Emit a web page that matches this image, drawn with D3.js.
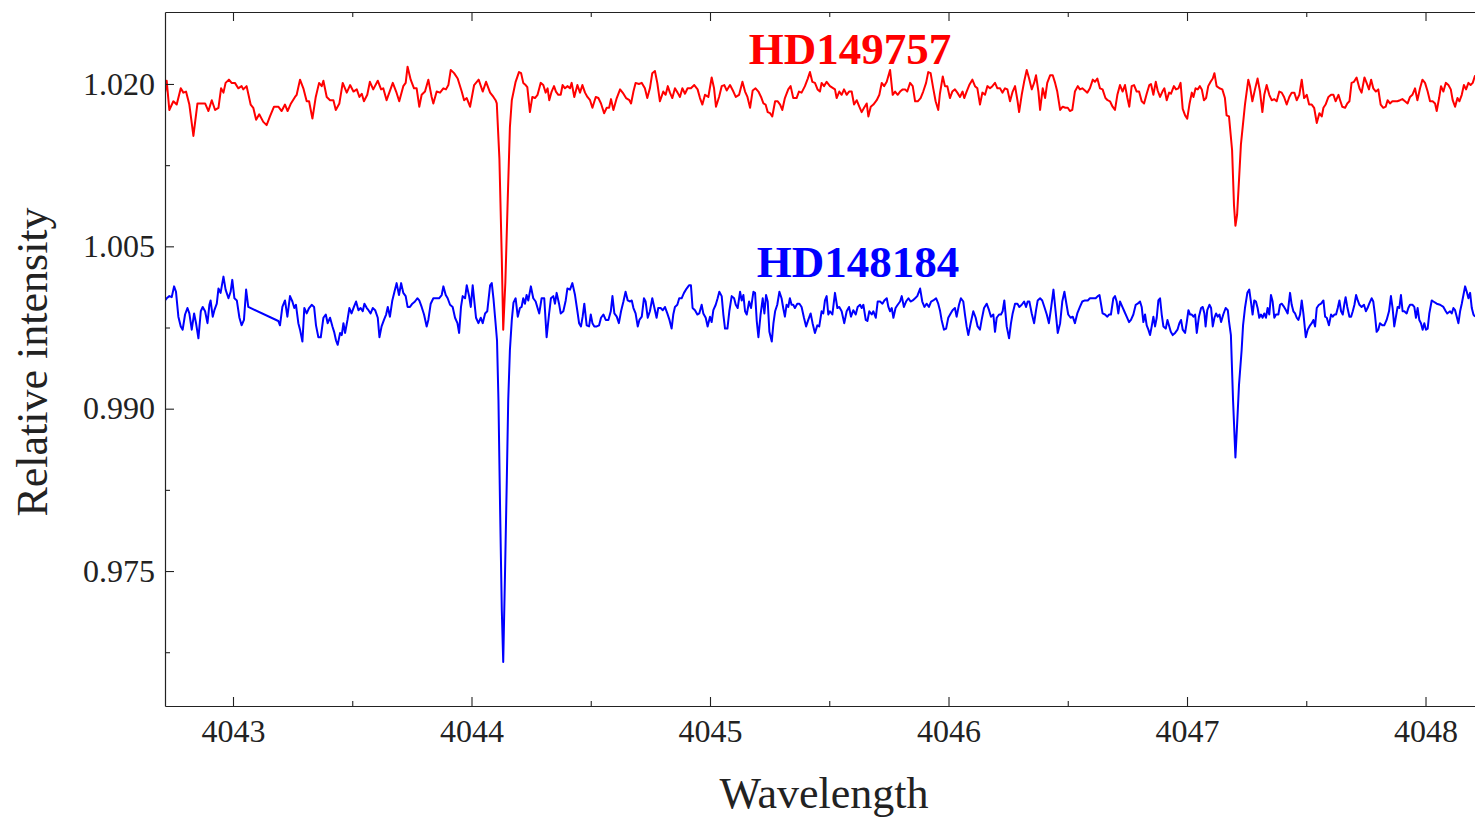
<!DOCTYPE html>
<html><head><meta charset="utf-8">
<script src="https://cdn.jsdelivr.net/npm/d3@7"></script>
<style>html,body{margin:0;padding:0;background:#fff;}svg{display:block;}</style>
</head><body>
<svg id="chart" width="1475" height="819"></svg>
<script>
// ---- data (wavelength, relative intensity) ----
const seriesNames = ["HD149757", "HD148184"];
const seriesColors = ["#ff0000", "#0000ff"];
const xTickValues = [4043, 4044, 4045, 4046, 4047, 4048];
const xMinorTickValues = [4043.5, 4044.5, 4045.5, 4046.5, 4047.5];
const yTickValues = [0.975, 0.990, 1.005, 1.020];
const yMinorTickValues = [0.9675, 0.9825, 0.9975, 1.0125];

const hd149757 = [
[4042.715,1.0192],[4042.722,1.0203],[4042.733,1.0176],[4042.750,1.0184],[4042.764,1.0181],[4042.781,1.0196],[4042.792,1.0192],[4042.803,1.0193],[4042.817,1.0181],[4042.834,1.0152],[4042.851,1.0182],[4042.869,1.0182],[4042.883,1.0182],[4042.897,1.0175],[4042.911,1.0185],[4042.925,1.0176],[4042.939,1.0178],[4042.950,1.0196],[4042.960,1.0192],[4042.969,1.0201],[4042.983,1.0204],[4042.994,1.0201],[4043.008,1.0201],[4043.022,1.0196],[4043.036,1.0198],[4043.043,1.0195],[4043.057,1.0198],[4043.074,1.0181],[4043.085,1.0178],[4043.097,1.0167],[4043.110,1.0172],[4043.127,1.0165],[4043.141,1.0162],[4043.155,1.0170],[4043.172,1.0179],[4043.190,1.0179],[4043.204,1.0175],[4043.218,1.0181],[4043.229,1.0175],[4043.243,1.0182],[4043.260,1.0188],[4043.267,1.0190],[4043.281,1.0204],[4043.295,1.0196],[4043.309,1.0184],[4043.319,1.0184],[4043.333,1.0168],[4043.347,1.0188],[4043.361,1.0201],[4043.372,1.0198],[4043.379,1.0203],[4043.393,1.0188],[4043.407,1.0185],[4043.421,1.0185],[4043.431,1.0176],[4043.446,1.0182],[4043.460,1.0201],[4043.477,1.0192],[4043.491,1.0199],[4043.505,1.0193],[4043.519,1.0195],[4043.530,1.0188],[4043.540,1.0191],[4043.549,1.0184],[4043.563,1.0190],[4043.574,1.0202],[4043.588,1.0195],[4043.607,1.0203],[4043.621,1.0195],[4043.630,1.0196],[4043.644,1.0185],[4043.670,1.0201],[4043.684,1.0193],[4043.697,1.0184],[4043.714,1.0198],[4043.724,1.0201],[4043.732,1.0216],[4043.745,1.0204],[4043.759,1.0196],[4043.770,1.0196],[4043.781,1.0179],[4043.791,1.0190],[4043.805,1.0193],[4043.819,1.0204],[4043.833,1.0188],[4043.840,1.0182],[4043.854,1.0193],[4043.868,1.0192],[4043.882,1.0196],[4043.893,1.0195],[4043.903,1.0199],[4043.913,1.0213],[4043.927,1.0210],[4043.942,1.0205],[4043.959,1.0193],[4043.969,1.0185],[4043.980,1.0187],[4043.994,1.0179],[4044.011,1.0199],[4044.030,1.0204],[4044.047,1.0193],[4044.061,1.0202],[4044.078,1.0192],[4044.092,1.0188],[4044.101,1.0185],
[4044.106,1.0182],[4044.117,1.0131],[4044.127,1.0039],[4044.133,0.9973],[4044.142,1.0017],[4044.152,1.0094],[4044.161,1.0160],[4044.169,1.0185],
[4044.185,1.0202],[4044.199,1.0211],[4044.208,1.0210],[4044.217,1.0201],[4044.227,1.0199],[4044.234,1.0197],[4044.245,1.0174],[4044.255,1.0188],[4044.266,1.0187],[4044.277,1.0190],[4044.290,1.0201],[4044.301,1.0199],[4044.311,1.0192],[4044.319,1.0196],[4044.326,1.0185],[4044.336,1.0193],[4044.346,1.0198],[4044.354,1.0193],[4044.364,1.0190],[4044.374,1.0190],[4044.382,1.0199],[4044.392,1.0196],[4044.402,1.0198],[4044.413,1.0196],[4044.420,1.0201],[4044.431,1.0188],[4044.444,1.0199],[4044.455,1.0192],[4044.465,1.0199],[4044.476,1.0192],[4044.486,1.0188],[4044.497,1.0185],[4044.507,1.0178],[4044.521,1.0188],[4044.532,1.0187],[4044.543,1.0182],[4044.556,1.0173],[4044.567,1.0178],[4044.577,1.0178],[4044.585,1.0186],[4044.595,1.0176],[4044.609,1.0187],[4044.623,1.0195],[4044.637,1.0191],[4044.648,1.0187],[4044.662,1.0185],[4044.669,1.0182],[4044.679,1.0193],[4044.688,1.0201],[4044.702,1.0200],[4044.714,1.0201],[4044.727,1.0196],[4044.737,1.0187],[4044.748,1.0196],[4044.758,1.0210],[4044.769,1.0212],[4044.779,1.0201],[4044.790,1.0184],[4044.804,1.0193],[4044.814,1.0190],[4044.823,1.0198],[4044.832,1.0192],[4044.842,1.0187],[4044.853,1.0196],[4044.864,1.0192],[4044.874,1.0188],[4044.884,1.0196],[4044.895,1.0191],[4044.906,1.0196],[4044.920,1.0196],[4044.934,1.0199],[4044.948,1.0195],[4044.958,1.0187],[4044.968,1.0181],[4044.979,1.0190],[4044.993,1.0188],[4045.007,1.0206],[4045.017,1.0196],[4045.025,1.0179],[4045.038,1.0188],[4045.049,1.0198],[4045.060,1.0199],[4045.070,1.0194],[4045.084,1.0199],[4045.098,1.0193],[4045.108,1.0188],[4045.122,1.0190],[4045.136,1.0202],[4045.147,1.0193],[4045.157,1.0188],[4045.168,1.0178],[4045.179,1.0194],[4045.191,1.0196],[4045.203,1.0193],[4045.214,1.0188],[4045.224,1.0182],[4045.233,1.0181],[4045.242,1.0174],[4045.252,1.0173],[4045.261,1.0170],[4045.273,1.0184],[4045.284,1.0184],[4045.294,1.0181],[4045.303,1.0176],[4045.314,1.0187],[4045.328,1.0195],[4045.338,1.0198],[4045.349,1.0187],[4045.363,1.0187],[4045.373,1.0193],[4045.384,1.0192],[4045.398,1.0198],[4045.410,1.0205],[4045.419,1.0211],[4045.429,1.0202],[4045.440,1.0201],[4045.451,1.0195],[4045.461,1.0193],[4045.468,1.0201],[4045.478,1.0198],[4045.489,1.0202],[4045.503,1.0198],
[4045.524,1.0195],[4045.531,1.0187],[4045.542,1.0193],[4045.552,1.0190],[4045.562,1.0195],[4045.573,1.0190],[4045.583,1.0193],[4045.594,1.0193],[4045.604,1.0181],[4045.615,1.0185],[4045.626,1.0179],[4045.636,1.0174],[4045.646,1.0178],[4045.657,1.0182],[4045.664,1.0170],[4045.674,1.0179],[4045.685,1.0181],[4045.699,1.0185],[4045.710,1.0190],[4045.720,1.0201],[4045.730,1.0198],[4045.741,1.0202],[4045.755,1.0213],[4045.766,1.0190],[4045.776,1.0193],[4045.787,1.0190],[4045.797,1.0193],[4045.808,1.0195],[4045.818,1.0195],[4045.827,1.0193],[4045.839,1.0201],[4045.850,1.0198],[4045.860,1.0184],[4045.871,1.0184],[4045.883,1.0187],[4045.894,1.0193],[4045.906,1.0201],[4045.915,1.0211],[4045.925,1.0210],[4045.936,1.0196],[4045.946,1.0184],[4045.957,1.0176],[4045.964,1.0191],[4045.976,1.0207],[4045.985,1.0198],[4045.995,1.0198],[4046.006,1.0187],[4046.016,1.0193],[4046.027,1.0195],[4046.037,1.0192],[4046.048,1.0188],[4046.059,1.0193],[4046.066,1.0187],[4046.076,1.0193],[4046.087,1.0199],[4046.100,1.0204],[4046.111,1.0198],[4046.121,1.0196],[4046.132,1.0181],[4046.142,1.0192],[4046.153,1.0190],[4046.163,1.0198],[4046.174,1.0196],[4046.184,1.0198],[4046.195,1.0201],[4046.205,1.0196],[4046.216,1.0196],[4046.226,1.0192],[4046.237,1.0196],[4046.247,1.0195],[4046.258,1.0184],[4046.269,1.0193],[4046.279,1.0198],[4046.289,1.0185],[4046.296,1.0174],[4046.307,1.0190],[4046.317,1.0202],[4046.328,1.0213],[4046.338,1.0205],[4046.349,1.0195],[4046.359,1.0201],[4046.367,1.0208],[4046.377,1.0193],[4046.384,1.0176],[4046.395,1.0196],[4046.405,1.0187],[4046.414,1.0201],[4046.426,1.0208],[4046.437,1.0208],[4046.447,1.0201],[4046.456,1.0193],[4046.468,1.0176],[4046.479,1.0179],[4046.490,1.0178],[4046.500,1.0178],[4046.509,1.0175],[4046.519,1.0176],[4046.530,1.0193],[4046.542,1.0198],[4046.551,1.0195],[4046.561,1.0196],[4046.572,1.0194],[4046.582,1.0192],[4046.593,1.0196],[4046.605,1.0204],[4046.614,1.0202],[4046.624,1.0205],[4046.635,1.0196],[4046.646,1.0195],[4046.658,1.0187],[4046.667,1.0185],[4046.677,1.0184],[4046.688,1.0179],[4046.698,1.0176],[4046.708,1.0190],[4046.719,1.0199],[4046.730,1.0193],[4046.740,1.0199],[4046.750,1.0187],[4046.758,1.0179],[4046.768,1.0198],[4046.778,1.0199],[4046.789,1.0193],[4046.799,1.0193],[4046.810,1.0184],[4046.820,1.0182],[4046.831,1.0191],[4046.842,1.0199],[4046.849,1.0200],[4046.859,1.0190],[4046.869,1.0202],[4046.877,1.0194],[4046.887,1.0188],[4046.897,1.0193],[4046.905,1.0196],[4046.915,1.0185],[4046.925,1.0192],
[4046.933,1.0191],[4046.945,1.0198],[4046.954,1.0195],[4046.964,1.0196],[4046.973,1.0201],[4046.982,1.0177],[4046.992,1.0171],[4047.001,1.0168],[4047.010,1.0181],[4047.020,1.0192],[4047.027,1.0188],[4047.036,1.0196],[4047.045,1.0195],[4047.054,1.0198],[4047.062,1.0195],[4047.071,1.0185],[4047.080,1.0187],[4047.089,1.0198],[4047.099,1.0202],[4047.108,1.0205],[4047.115,1.0210],[4047.124,1.0198],[4047.136,1.0196],[4047.148,1.0195],[4047.159,1.0187],[4047.166,1.0171],[4047.176,1.0170],
[4047.189,1.0139],[4047.197,1.0088],[4047.203,1.0069],[4047.210,1.0079],[4047.218,1.0111],[4047.226,1.0144],
[4047.243,1.0181],[4047.257,1.0204],[4047.264,1.0198],[4047.274,1.0184],[4047.285,1.0195],[4047.296,1.0205],[4047.306,1.0193],[4047.316,1.0174],[4047.324,1.0190],[4047.334,1.0199],[4047.345,1.0190],[4047.355,1.0185],[4047.366,1.0186],[4047.376,1.0184],[4047.387,1.0193],[4047.397,1.0192],[4047.407,1.0188],[4047.418,1.0181],[4047.429,1.0188],[4047.439,1.0192],[4047.450,1.0192],[4047.460,1.0185],[4047.471,1.0190],[4047.481,1.0204],[4047.491,1.0187],[4047.502,1.0190],[4047.512,1.0181],[4047.523,1.0181],[4047.533,1.0178],[4047.544,1.0164],[4047.555,1.0173],[4047.565,1.0170],[4047.572,1.0178],[4047.581,1.0181],[4047.593,1.0188],[4047.604,1.0190],[4047.614,1.0190],[4047.623,1.0184],[4047.635,1.0190],[4047.642,1.0185],[4047.651,1.0179],[4047.663,1.0178],[4047.672,1.0182],[4047.681,1.0184],[4047.690,1.0201],[4047.700,1.0202],[4047.711,1.0206],[4047.723,1.0196],[4047.732,1.0192],[4047.744,1.0206],[4047.753,1.0201],[4047.763,1.0195],[4047.772,1.0204],[4047.781,1.0196],[4047.792,1.0193],[4047.802,1.0195],[4047.812,1.0181],[4047.823,1.0178],[4047.833,1.0179],[4047.841,1.0185],[4047.851,1.0182],[4047.861,1.0184],[4047.872,1.0184],[4047.882,1.0184],[4047.893,1.0185],[4047.903,1.0186],[4047.914,1.0184],[4047.925,1.0182],[4047.935,1.0188],[4047.945,1.0190],[4047.956,1.0196],[4047.966,1.0185],[4047.977,1.0196],[4047.987,1.0204],[4047.998,1.0201],[4048.009,1.0193],[4048.019,1.0184],[4048.030,1.0184],[4048.040,1.0182],[4048.047,1.0175],[4048.057,1.0187],[4048.065,1.0198],[4048.075,1.0193],[4048.085,1.0201],[4048.096,1.0199],[4048.106,1.0195],[4048.114,1.0185],[4048.124,1.0179],[4048.134,1.0187],[4048.142,1.0184],[4048.152,1.0190],[4048.161,1.0199],[4048.170,1.0195],[4048.180,1.0201],[4048.189,1.0199],[4048.198,1.0201],[4048.208,1.0208]
];

const hd148184 = [
[4042.715,1.0000],[4042.722,1.0002],[4042.733,1.0004],[4042.743,1.0003],[4042.753,1.0013],[4042.761,1.0008],[4042.771,0.9985],[4042.781,0.9976],[4042.789,0.9973],[4042.799,0.9987],[4042.809,0.9993],[4042.817,0.9988],[4042.827,0.9973],[4042.837,0.9988],[4042.845,0.9979],[4042.855,0.9965],[4042.865,0.9990],[4042.873,0.9994],[4042.883,0.9990],[4042.893,0.9979],[4042.901,0.9996],[4042.906,1.0000],[4042.915,0.9985],[4042.922,0.9991],[4042.932,0.9997],[4042.939,1.0011],[4042.948,1.0007],[4042.960,1.0022],[4042.969,1.0010],[4042.981,1.0002],[4042.990,1.0008],[4042.997,1.0019],[4043.006,1.0002],[4043.016,1.0000],[4043.027,0.9984],[4043.036,0.9977],[4043.046,0.9982],[4043.055,1.0010],[4043.064,0.9994],[4043.190,0.9981],[4043.197,0.9977],[4043.207,0.9994],[4043.218,1.0000],[4043.228,0.9985],[4043.239,1.0004],[4043.249,0.9999],[4043.257,0.9993],[4043.264,0.9996],[4043.274,0.9979],[4043.281,0.9973],[4043.291,0.9962],[4043.299,0.9993],[4043.309,0.9988],[4043.319,0.9993],[4043.330,0.9996],[4043.340,0.9994],[4043.348,0.9977],[4043.358,0.9966],[4043.368,0.9966],[4043.379,0.9984],[4043.389,0.9987],[4043.397,0.9979],[4043.407,0.9984],[4043.417,0.9976],[4043.424,0.9971],[4043.432,0.9963],[4043.439,0.9959],[4043.449,0.9970],[4043.456,0.9968],[4043.463,0.9979],[4043.470,0.9970],[4043.480,0.9982],[4043.488,0.9993],[4043.497,0.9988],[4043.507,0.9994],[4043.516,0.9999],[4043.526,0.9991],[4043.535,0.9993],[4043.544,0.9990],[4043.551,0.9997],[4043.561,0.9993],[4043.568,0.9991],[4043.577,0.9988],[4043.586,0.9993],[4043.596,0.9991],[4043.607,0.9984],[4043.614,0.9966],[4043.623,0.9976],[4043.633,0.9982],[4043.642,0.9987],[4043.649,0.9994],[4043.658,0.9985],[4043.668,1.0000],[4043.677,1.0008],[4043.686,1.0016],[4043.696,1.0005],[4043.705,1.0016],[4043.714,1.0007],[4043.724,1.0004],[4043.732,0.9994],[4043.742,0.9994],[4043.752,0.9997],[4043.763,0.9999],[4043.773,1.0002],[4043.781,1.0000],[4043.791,0.9994],[4043.801,0.9987],[4043.812,0.9976],[4043.819,0.9982],[4043.829,0.9997],[4043.840,1.0002],[4043.851,1.0002],[4043.864,1.0002],[4043.875,1.0005],[4043.882,1.0013],[4043.892,1.0005],[4043.900,1.0002],[4043.910,0.9996],[4043.921,0.9994],[4043.931,0.9984],[4043.941,0.9979],[4043.948,0.9970],[4043.956,0.9994],[4043.963,1.0004],[4043.973,1.0002],[4043.980,1.0014],[4043.990,1.0004],[4043.997,0.9994],[4044.005,1.0014],[4044.012,0.9999],[4044.019,0.9984],[4044.029,0.9979],[4044.039,0.9984],[4044.047,0.9979],[4044.057,0.9988],[4044.066,0.9990],[4044.078,1.0014],[4044.085,1.0016],[4044.092,1.0002],[4044.099,0.9984],
[4044.107,0.9963],[4044.113,0.9908],[4044.120,0.9806],[4044.127,0.9714],[4044.133,0.9666],[4044.140,0.9742],[4044.148,0.9834],[4044.154,0.9908],[4044.161,0.9954],[4044.169,0.9982],[4044.176,0.9998],
[4044.185,1.0002],[4044.194,0.9985],[4044.203,0.9993],[4044.210,0.9994],[4044.217,1.0002],[4044.224,0.9997],[4044.231,1.0005],[4044.238,1.0000],[4044.249,1.0013],[4044.259,1.0002],[4044.269,0.9999],[4044.277,0.9993],[4044.284,0.9988],[4044.294,1.0002],[4044.305,1.0002],[4044.315,0.9966],[4044.325,0.9987],[4044.333,1.0002],[4044.343,1.0004],[4044.350,0.9997],[4044.357,1.0007],[4044.367,0.9997],[4044.374,0.9988],[4044.385,0.9990],[4044.395,1.0000],[4044.402,1.0011],[4044.413,1.0010],[4044.423,1.0016],[4044.434,1.0005],[4044.444,0.9990],[4044.451,0.9979],[4044.459,0.9976],[4044.466,0.9985],[4044.473,0.9997],[4044.483,0.9977],[4044.493,0.9976],[4044.500,0.9987],[4044.507,0.9979],[4044.515,0.9976],[4044.525,0.9976],[4044.535,0.9977],[4044.543,0.9984],[4044.553,0.9987],[4044.563,0.9982],[4044.574,0.9982],[4044.584,0.9990],[4044.591,1.0004],[4044.599,0.9988],[4044.609,0.9985],[4044.618,0.9979],[4044.627,0.9990],[4044.637,0.9999],[4044.646,1.0008],[4044.655,1.0000],[4044.665,0.9999],[4044.672,1.0000],[4044.679,0.9993],[4044.688,0.9988],[4044.697,0.9976],[4044.704,0.9982],[4044.714,0.9985],[4044.723,1.0002],[4044.730,0.9999],[4044.739,0.9984],[4044.748,0.9990],[4044.758,1.0002],[4044.767,0.9993],[4044.776,0.9984],[4044.783,0.9993],[4044.793,0.9993],[4044.802,0.9991],[4044.811,0.9994],[4044.821,0.9988],[4044.830,0.9982],[4044.839,0.9974],[4044.846,0.9987],[4044.853,0.9994],[4044.863,0.9996],[4044.871,1.0002],[4044.881,1.0002],[4044.891,1.0007],[4044.902,1.0011],[4044.912,1.0014],[4044.920,1.0014],[4044.927,0.9993],[4044.937,0.9991],[4044.947,0.9987],[4044.955,0.9988],[4044.965,0.9996],[4044.972,0.9988],[4044.982,0.9984],[4044.990,0.9976],[4045.000,0.9985],[4045.007,0.9980],[4045.014,0.9991],[4045.024,0.9996],[4045.032,1.0002],[4045.039,1.0008],[4045.049,1.0004],[4045.056,0.9987],[4045.063,0.9974],[4045.073,0.9974],[4045.081,0.9990],[4045.091,1.0004],[4045.101,1.0002],[4045.108,0.9996],[4045.116,0.9993],[4045.126,1.0008],[4045.133,1.0000],[4045.140,1.0005],[4045.147,0.9990],[4045.154,0.9987],[4045.164,0.9999],[4045.172,0.9993],[4045.182,1.0008],[4045.189,1.0007],[4045.196,0.9981],[4045.203,0.9966],[4045.212,0.9987],[4045.221,1.0002],[4045.228,0.9988],[4045.235,1.0005],[4045.242,0.9999],[4045.249,0.9971],[4045.259,0.9962],[4045.266,0.9979],[4045.273,0.9990],[4045.282,0.9996],[4045.291,1.0008],[4045.300,1.0002],[4045.307,0.9993],[4045.314,0.9985],[4045.321,0.9996],[4045.328,0.9994],[4045.335,1.0002],[4045.342,0.9996],[4045.349,0.9996],[4045.356,0.9993],[4045.366,0.9997],[4045.375,0.9997],[4045.384,0.9994],[4045.394,0.9984],[4045.403,0.9976],[4045.412,0.9982],[4045.422,0.9988],[4045.430,0.9979],[4045.440,0.9970],[4045.450,0.9977],[4045.458,0.9976],[4045.468,0.9990],[4045.475,0.9988],[4045.482,1.0000],[4045.489,1.0004],[4045.496,0.9987],[4045.503,0.9990],[4045.513,0.9987],
[4045.524,1.0007],[4045.534,0.9993],[4045.542,0.9994],[4045.552,0.9990],[4045.563,0.9979],[4045.573,0.9990],[4045.583,0.9994],[4045.591,0.9985],[4045.601,0.9991],[4045.611,0.9987],[4045.619,0.9994],[4045.629,0.9996],[4045.636,0.9993],[4045.643,0.9996],[4045.653,0.9982],[4045.660,0.9981],[4045.668,0.9990],[4045.678,0.9987],[4045.685,0.9990],[4045.695,0.9984],[4045.703,0.9999],[4045.713,0.9999],[4045.723,0.9997],[4045.731,1.0000],[4045.741,1.0002],[4045.748,0.9994],[4045.755,0.9990],[4045.762,0.9993],[4045.769,0.9984],[4045.778,0.9993],[4045.787,0.9996],[4045.797,0.9999],[4045.804,1.0004],[4045.813,0.9994],[4045.822,0.9999],[4045.832,1.0002],[4045.841,0.9999],[4045.850,1.0000],[4045.860,1.0002],[4045.869,1.0004],[4045.881,1.0011],[4045.890,0.9999],[4045.899,0.9994],[4045.908,0.9997],[4045.918,0.9994],[4045.927,0.9999],[4045.936,1.0000],[4045.948,1.0002],[4045.957,0.9997],[4045.964,0.9991],[4045.971,0.9982],[4045.981,0.9973],[4045.990,0.9974],[4045.999,0.9984],[4046.009,0.9988],[4046.017,0.9991],[4046.027,0.9993],[4046.034,0.9985],[4046.044,0.9996],[4046.052,1.0002],[4046.062,0.9999],[4046.069,0.9987],[4046.076,0.9976],[4046.083,0.9968],[4046.093,0.9979],[4046.104,0.9990],[4046.114,0.9984],[4046.122,0.9976],[4046.132,0.9973],[4046.139,0.9982],[4046.149,0.9993],[4046.160,0.9997],[4046.170,0.9991],[4046.178,0.9985],[4046.188,0.9987],[4046.195,0.9971],[4046.202,0.9984],[4046.212,0.9987],[4046.220,0.9987],[4046.227,0.9990],[4046.234,1.0000],[4046.244,0.9976],[4046.254,0.9965],[4046.262,0.9979],[4046.269,0.9988],[4046.279,0.9997],[4046.289,0.9997],[4046.297,0.9994],[4046.307,0.9996],[4046.317,0.9999],[4046.325,0.9994],[4046.332,0.9999],[4046.339,0.9999],[4046.349,0.9988],[4046.359,0.9979],[4046.367,0.9991],[4046.374,1.0000],[4046.384,1.0002],[4046.393,1.0000],[4046.402,0.9994],[4046.412,0.9987],[4046.421,0.9979],[4046.430,0.9993],[4046.440,1.0010],[4046.449,0.9990],[4046.458,0.9970],[4046.468,0.9979],[4046.477,0.9999],[4046.486,1.0008],[4046.495,0.9996],[4046.502,0.9987],[4046.512,0.9984],[4046.521,0.9985],[4046.530,0.9979],[4046.540,0.9988],[4046.551,0.9994],[4046.561,0.9999],[4046.572,1.0000],[4046.584,1.0000],[4046.593,1.0002],[4046.607,1.0002],[4046.617,1.0002],[4046.626,1.0004],[4046.633,1.0005],[4046.640,0.9996],[4046.646,0.9988],[4046.656,0.9987],[4046.666,0.9985],[4046.673,0.9987],[4046.681,0.9987],[4046.691,1.0002],[4046.698,1.0004],[4046.705,0.9999],[4046.712,0.9988],[4046.719,0.9999],[4046.729,0.9994],[4046.737,0.9990],[4046.747,0.9985],[4046.757,0.9980],[4046.765,0.9982],[4046.775,0.9987],[4046.785,0.9996],[4046.793,0.9997],[4046.803,0.9999],[4046.810,0.9994],[4046.817,0.9980],[4046.824,0.9987],[4046.831,0.9977],[4046.838,0.9973],[4046.845,0.9968],[4046.852,0.9976],[4046.859,0.9985],[4046.866,0.9976],[4046.873,0.9984],[4046.880,1.0000],[4046.887,1.0002],[4046.894,0.9987],[4046.901,0.9976],[4046.911,0.9974],[4046.918,0.9982],
[4046.932,0.9971],[4046.940,0.9968],[4046.950,0.9970],[4046.960,0.9973],[4046.968,0.9979],[4046.975,0.9982],[4046.982,0.9973],[4046.992,0.9970],[4046.999,0.9980],[4047.006,0.9991],[4047.013,0.9987],[4047.020,0.9987],[4047.027,0.9985],[4047.034,0.9987],[4047.041,0.9970],[4047.050,0.9985],[4047.059,0.9993],[4047.066,0.9994],[4047.073,0.9988],[4047.078,0.9976],[4047.085,0.9991],[4047.094,0.9996],[4047.101,0.9993],[4047.108,0.9976],[4047.115,0.9984],[4047.122,0.9988],[4047.129,0.9985],[4047.136,0.9987],[4047.143,0.9980],[4047.152,0.9987],[4047.162,0.9993],[4047.171,0.9991],[4047.176,0.9981],
[4047.184,0.9968],[4047.193,0.9908],[4047.203,0.9855],[4047.210,0.9885],[4047.218,0.9922],[4047.229,0.9954],[4047.235,0.9977],
[4047.243,0.9993],[4047.253,1.0007],[4047.261,1.0010],[4047.268,0.9999],[4047.275,0.9987],[4047.282,1.0000],[4047.289,0.9999],[4047.296,0.9993],[4047.303,0.9984],[4047.310,0.9987],[4047.317,0.9984],[4047.324,0.9988],[4047.331,0.9984],[4047.338,0.9993],[4047.345,0.9987],[4047.352,1.0005],[4047.359,0.9999],[4047.366,0.9984],[4047.373,0.9987],[4047.383,0.9987],[4047.390,0.9996],[4047.397,0.9997],[4047.407,0.9994],[4047.415,0.9991],[4047.422,0.9988],[4047.432,1.0007],[4047.439,0.9996],[4047.446,0.9990],[4047.453,0.9988],[4047.460,0.9984],[4047.467,0.9982],[4047.474,0.9987],[4047.481,1.0000],[4047.488,0.9988],[4047.498,0.9966],[4047.506,0.9973],[4047.516,0.9977],[4047.523,0.9979],[4047.530,0.9982],[4047.537,0.9976],[4047.544,0.9993],[4047.553,0.9996],[4047.562,0.9997],[4047.572,1.0000],[4047.579,0.9985],[4047.586,0.9984],[4047.595,0.9977],[4047.604,0.9987],[4047.611,0.9985],[4047.618,0.9987],[4047.625,0.9987],[4047.632,0.9993],[4047.639,1.0000],[4047.646,0.9990],[4047.653,0.9987],[4047.660,0.9997],[4047.665,1.0003],[4047.672,0.9994],[4047.681,0.9985],[4047.688,0.9985],[4047.695,0.9990],[4047.702,0.9996],[4047.709,1.0005],[4047.716,1.0000],[4047.723,0.9996],[4047.732,0.9994],[4047.742,0.9996],[4047.750,0.9990],[4047.757,0.9993],[4047.764,0.9997],[4047.774,1.0002],[4047.781,0.9999],[4047.788,0.9987],[4047.795,0.9971],[4047.802,0.9973],[4047.809,0.9979],[4047.819,0.9977],[4047.827,0.9977],[4047.837,0.9982],[4047.847,0.9990],[4047.855,1.0004],[4047.862,0.9993],[4047.869,0.9976],[4047.876,0.9985],[4047.883,0.9994],[4047.890,0.9993],[4047.897,1.0005],[4047.904,0.9990],[4047.911,0.9990],[4047.921,0.9988],[4047.928,0.9993],[4047.935,0.9996],[4047.945,0.9996],[4047.953,0.9994],[4047.960,0.9984],[4047.967,0.9993],[4047.974,0.9982],[4047.981,0.9979],[4047.988,0.9973],[4047.995,0.9979],[4048.002,0.9973],[4048.009,0.9974],[4048.016,0.9988],[4048.026,1.0000],[4048.033,0.9999],[4048.047,0.9997],[4048.061,0.9996],[4048.075,0.9994],[4048.085,0.9990],[4048.091,0.9988],[4048.103,0.9990],[4048.110,0.9988],[4048.117,0.9993],[4048.124,0.9991],[4048.131,0.9985],[4048.138,0.9979],[4048.145,0.9990],[4048.152,0.9997],[4048.159,1.0005],[4048.166,1.0013],[4048.173,1.0008],[4048.180,1.0002],[4048.187,1.0007],[4048.194,0.9993],[4048.201,0.9987],[4048.208,0.9985]
];

// ---- layout ----
const W = 1475, H = 819;
const plot = {left: 165, right: 1475, top: 12, bottom: 706};
const x = d3.scaleLinear().domain([4042.7149, 4048.2075]).range([plot.left, plot.right]);
const y = d3.scaleLinear().domain([0.96253, 1.02665]).range([plot.bottom, plot.top]);

const svg = d3.select("#chart");
const font = "'Liberation Serif', 'Times New Roman', serif";

svg.append("defs").append("clipPath").attr("id", "clip")
  .append("rect").attr("x", plot.left).attr("y", plot.top)
  .attr("width", plot.right - plot.left).attr("height", plot.bottom - plot.top);

// series lines (blue beneath red)
const line = d3.line().x(d => x(d[0])).y(d => y(d[1]));
const gLines = svg.append("g").attr("clip-path", "url(#clip)");
[[hd148184, seriesColors[1]], [hd149757, seriesColors[0]]].forEach(([data, col]) => {
  gLines.append("path").datum(data)
    .attr("fill", "none").attr("stroke", col).attr("stroke-width", 2)
    .attr("stroke-linejoin", "round").attr("d", line);
});

// axes
function styleAxis(g) {
  g.selectAll("path.domain").attr("stroke", "#222").attr("stroke-width", 1.2);
  g.selectAll(".tick line").attr("stroke", "#222").attr("stroke-width", 1.1);
  g.selectAll(".tick text").attr("font-family", font).attr("font-size", 32).attr("fill", "#222");
}
const gxb = svg.append("g").attr("transform", `translate(0,${plot.bottom})`)
  .call(d3.axisBottom(x).tickValues(xTickValues).tickSize(-9).tickSizeOuter(0).tickPadding(13).tickFormat(d3.format("d")));
styleAxis(gxb);
const gxbm = svg.append("g").attr("transform", `translate(0,${plot.bottom})`)
  .call(d3.axisBottom(x).tickValues(xMinorTickValues).tickSize(-5).tickSizeOuter(0).tickFormat(""));
styleAxis(gxbm); gxbm.select("path.domain").remove();

const gxt = svg.append("g").attr("transform", `translate(0,${plot.top})`)
  .call(d3.axisTop(x).tickValues(xTickValues).tickSize(-9).tickSizeOuter(0).tickFormat(""));
styleAxis(gxt);
const gxtm = svg.append("g").attr("transform", `translate(0,${plot.top})`)
  .call(d3.axisTop(x).tickValues(xMinorTickValues).tickSize(-5).tickSizeOuter(0).tickFormat(""));
styleAxis(gxtm); gxtm.select("path.domain").remove();

const gyl = svg.append("g").attr("transform", `translate(${plot.left},0)`)
  .call(d3.axisLeft(y).tickValues(yTickValues).tickSize(-9).tickSizeOuter(0).tickPadding(10).tickFormat(d3.format(".3f")));
styleAxis(gyl);
const gylm = svg.append("g").attr("transform", `translate(${plot.left},0)`)
  .call(d3.axisLeft(y).tickValues(yMinorTickValues).tickSize(-5).tickSizeOuter(0).tickFormat(""));
styleAxis(gylm); gylm.select("path.domain").remove();

// axis titles
svg.append("text").attr("x", 824).attr("y", 808).attr("text-anchor", "middle")
  .attr("font-family", font).attr("font-size", 44).attr("fill", "#222").text("Wavelength");
svg.append("text").attr("transform", `translate(47,${(plot.top + plot.bottom) / 2 + 3}) rotate(-90)`)
  .attr("text-anchor", "middle").attr("font-family", font).attr("font-size", 44).attr("fill", "#222")
  .text("Relative intensity");

// series labels
const labelPos = [[4045.587, 1.0218], [4045.621, 1.00217]];
seriesNames.forEach((name, i) => {
  svg.append("text").attr("x", x(labelPos[i][0])).attr("y", y(labelPos[i][1]))
    .attr("text-anchor", "middle").attr("font-family", font).attr("font-weight", "bold")
    .attr("font-size", 45).attr("fill", seriesColors[i]).text(name);
});
</script>
</body></html>
